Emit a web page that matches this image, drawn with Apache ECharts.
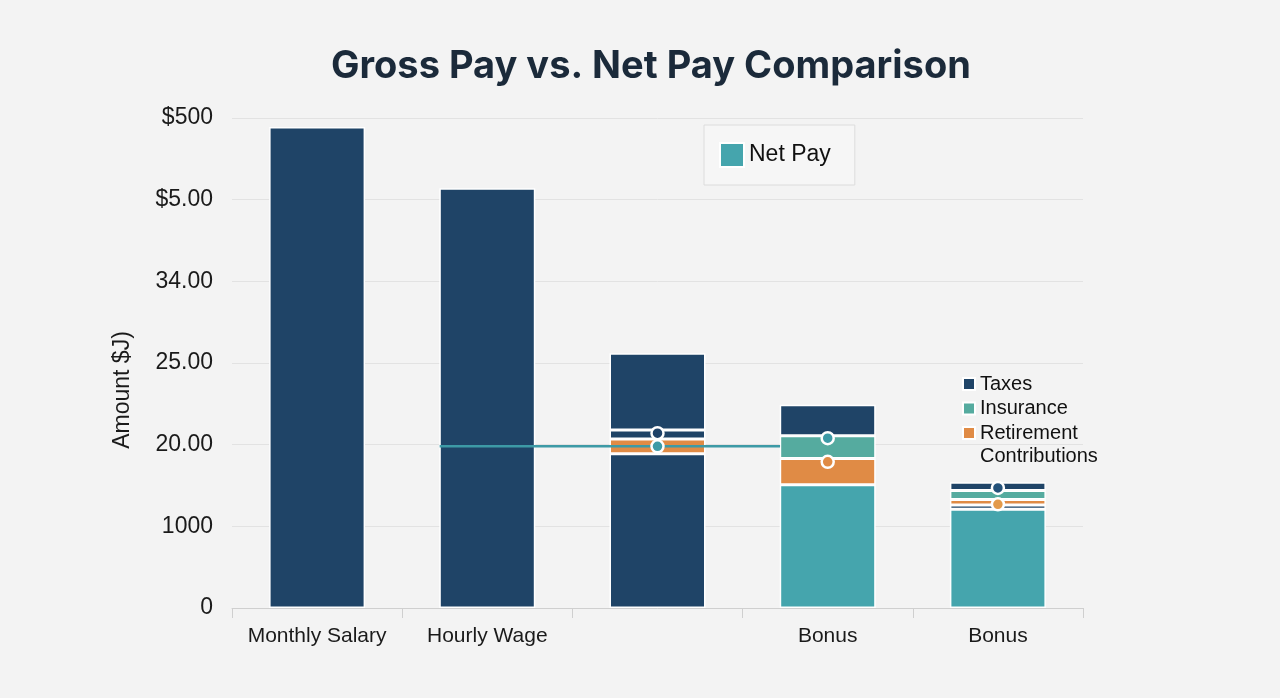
<!DOCTYPE html>
<html>
<head>
<meta charset="utf-8">
<title>Gross Pay vs. Net Pay Comparison</title>
<script src="https://cdn.jsdelivr.net/npm/echarts@6/dist/echarts.min.js"></script>
<style>
  html, body { margin: 0; padding: 0; background: #f3f3f3; }
  #chart { width: 1280px; height: 698px; }
</style>
</head>
<body>
<div id="chart"></div>
<script>
// categories and tick labels as printed on the chart
const categories = ['Monthly Salary', 'Hourly Wage', '', 'Bonus', 'Bonus'];
const tickLabels = ['0', '1000', '20.00', '25.00', '34.00', '$5.00', '$500'];

// stacked segments, bottom to top (axis units)
const grossPay   = [5.89, 5.14, 1.89, null, null];
const netPay     = [null, null, null, 1.51, 1.21];
const taxesLow   = [null, null, null, null, 0.05];
const retirement = [null, null, 0.18, 0.32, 0.07];
const taxesMid   = [null, null, 0.11, null, null];
const insurance  = [null, null, null, 0.28, 0.11];
const taxes      = [null, null, 0.94, 0.38, 0.10];

// connector line (x in category units, centre of first category = 0) and markers
const trendX = [0.72, 2.72];
const trendY = [1.98, 1.98];
const markerPoints = [[2, 2.14], [2, 1.98], [3, 2.08], [3, 1.79], [4, 1.47], [4, 1.27]];
const markerColors = ['#1e4268', '#3d9aa6', '#3d9aa6', '#e08b45', '#24527a', '#e39a4a'];

const NAVY = '#1f4467';
const TEAL = '#45a5ad';
const INS = '#55ab9f';
const ORANGE = '#e08b45';
const FONT = "'Liberation Sans', Arial, sans-serif";

const chart = echarts.init(document.getElementById('chart'));

const seg = (name, data, color) => ({
  name,
  type: 'bar',
  stack: 'pay',
  barWidth: 96,
  data,
  itemStyle: { color, borderColor: '#ffffff', borderWidth: 1.5 },
  emphasis: { disabled: true }
});

const option = {
  backgroundColor: '#f3f3f3',
  animation: false,
  title: {
    text: 'Gross Pay vs. Net Pay Comparison',
    left: 326,
    top: 43,
    textStyle: { fontFamily: 'Inter, sans-serif', fontSize: 38, fontWeight: 'bold', color: '#1b2a3a' }
  },
  legend: [
    {
      data: ['Net Pay'],
      left: 704,
      top: 125,
      icon: 'rect',
      itemWidth: 24,
      itemHeight: 24,
      padding: [17, 24, 17, 15],
      borderColor: '#dcdcdc',
      borderWidth: 1,
      backgroundColor: '#f6f6f6',
      textStyle: { fontFamily: FONT, fontSize: 23, color: '#111' },
      selectedMode: false
    },
    {
      data: ['Taxes', 'Insurance', 'Retirement Contributions'],
      orient: 'vertical',
      left: 957,
      top: 368,
      icon: 'rect',
      itemWidth: 12,
      itemHeight: 12,
      itemGap: 2.5,
      selectedMode: false,
      formatter: n => n === 'Retirement Contributions' ? 'Retirement' : n,
      textStyle: { fontFamily: FONT, fontSize: 20, lineHeight: 22, color: '#111' }
    }
  ],
  graphic: [
    {
      type: 'text',
      left: 980,
      top: 446,
      style: { text: 'Contributions', font: "20px 'Liberation Sans', Arial, sans-serif", fill: '#111' }
    },
    {
      type: 'text',
      x: 123,
      y: 390,
      rotation: Math.PI / 2,
      style: {
        text: 'Amount $J)',
        font: "23px 'Liberation Sans', Arial, sans-serif",
        fill: '#1a1a1a',
        align: 'center',
        verticalAlign: 'middle'
      }
    }
  ],
  grid: { left: 232, right: 197, top: 118, bottom: 90 },
  xAxis: [
    {
      type: 'category',
      data: categories,
      axisLine: { lineStyle: { color: '#cfcfcf' } },
      axisTick: { show: true, interval: 0, length: 10, lineStyle: { color: '#cfcfcf' } },
      axisLabel: { interval: 0, fontFamily: FONT, fontSize: 21, color: '#1a1a1a', margin: 18 }
    },
    {
      type: 'value',
      min: -0.5,
      max: 4.5,
      show: false
    }
  ],
  yAxis: {
    type: 'value',
    min: 0,
    max: 6,
    interval: 1,
    axisLine: { show: false },
    axisTick: { show: false },
    axisLabel: {
      fontFamily: FONT, fontSize: 23, color: '#1a1a1a', margin: 19,
      formatter: v => tickLabels[v] ?? ''
    },
    splitLine: { lineStyle: { color: '#e2e2e2', width: 1 } }
  },
  series: [
    seg('Gross Pay', grossPay, NAVY),
    seg('Net Pay', netPay, TEAL),
    seg('Taxes Low', taxesLow, NAVY),
    seg('Retirement Contributions', retirement, ORANGE),
    seg('Taxes Mid', taxesMid, NAVY),
    seg('Insurance', insurance, INS),
    seg('Taxes', taxes, NAVY),
    {
      name: 'Trend',
      type: 'line',
      xAxisIndex: 1,
      data: trendX.map((x, i) => [x, trendY[i]]),
      showSymbol: false,
      lineStyle: { color: '#3d9aa6', width: 2.5 },
      z: 5
    },
    {
      name: 'Markers',
      type: 'scatter',
      data: markerPoints,
      symbol: 'circle',
      symbolSize: 12,
      itemStyle: {
        color: p => markerColors[p.dataIndex],
        borderColor: '#ffffff',
        borderWidth: 2.5,
        opacity: 1
      },
      z: 6
    }
  ]
};

chart.setOption(option);
</script>
</body>
</html>
